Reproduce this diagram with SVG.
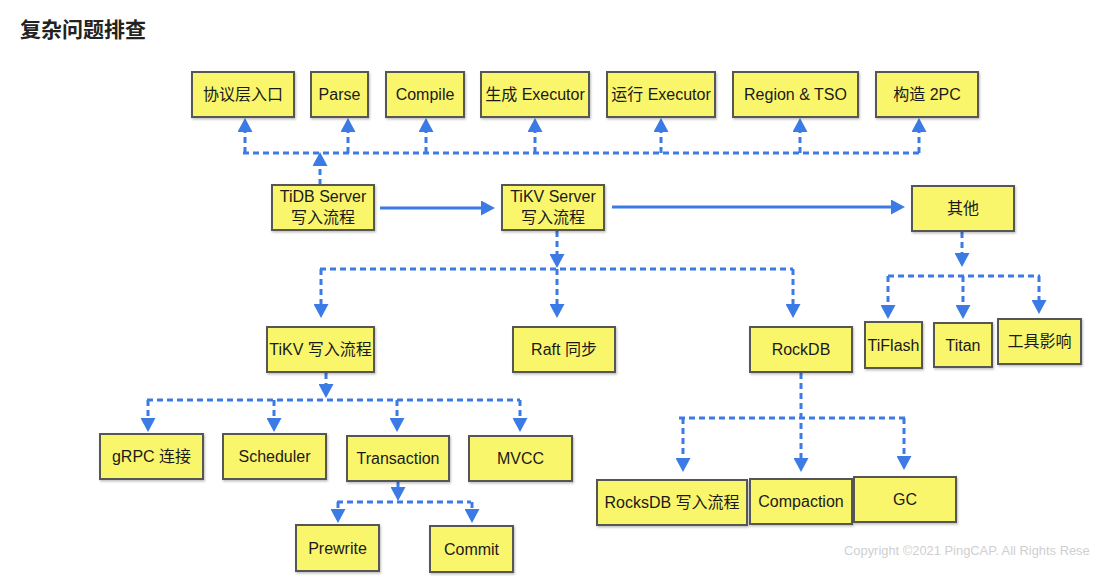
<svg xmlns="http://www.w3.org/2000/svg" width="1102" height="576" viewBox="0 0 1102 576">
<style>
.box{fill:#faf66c;stroke:#575757;stroke-width:2;filter:url(#sh)}
.t{font-family:"Liberation Sans","Noto Sans CJK SC",sans-serif;font-size:16px;fill:#1a1a1a;text-anchor:middle}
.d{fill:none;stroke:#3c7be6;stroke-width:3;stroke-dasharray:6 4}
.s{fill:none;stroke:#3c7be6;stroke-width:3}
.title{font-family:"Liberation Sans","Noto Sans CJK SC",sans-serif;font-size:21px;font-weight:bold;fill:#222}
.copy{font-family:"Liberation Sans",sans-serif;font-size:12.9px;fill:#cfcfcf}
</style>
<defs>
<filter id="sh" x="-10%" y="-10%" width="130%" height="140%">
<feDropShadow dx="1" dy="1.5" stdDeviation="1" flood-color="#000" flood-opacity="0.25"/>
</filter>
<marker id="ah" viewBox="0 0 14 15" refX="0" refY="7.5" markerWidth="14" markerHeight="15" markerUnits="userSpaceOnUse" orient="auto">
<path d="M0,0 L14,7.5 L0,15 z" fill="#3c7be6"/>
</marker>
<clipPath id="cp"><rect x="0" y="0" width="1090" height="576"/></clipPath>
</defs>
<rect width="1102" height="576" fill="#fff"/>
<text class="title" x="20" y="37">复杂问题排查</text>

<g id="connectors">
<path class="d" d="M320 185 V166" marker-end="url(#ah)"/>
<path class="d" d="M243 153 H920"/>
<path class="d" d="M245 153 V132" marker-end="url(#ah)"/>
<path class="d" d="M348 153 V132" marker-end="url(#ah)"/>
<path class="d" d="M426 153 V132" marker-end="url(#ah)"/>
<path class="d" d="M535 153 V132" marker-end="url(#ah)"/>
<path class="d" d="M661 153 V132" marker-end="url(#ah)"/>
<path class="d" d="M800 153 V132" marker-end="url(#ah)"/>
<path class="d" d="M919 153 V132" marker-end="url(#ah)"/>
<path class="s" d="M380 208 H481" marker-end="url(#ah)"/>
<path class="s" d="M612 207 H891" marker-end="url(#ah)"/>
<path class="d" d="M557 231 V254" marker-end="url(#ah)"/>
<path class="d" d="M320 269 H793"/>
<path class="d" d="M321 269 V304" marker-end="url(#ah)"/>
<path class="d" d="M557 269 V304" marker-end="url(#ah)"/>
<path class="d" d="M793 269 V304" marker-end="url(#ah)"/>
<path class="d" d="M962 232 V253" marker-end="url(#ah)"/>
<path class="d" d="M888 276 H1040"/>
<path class="d" d="M888 276 V305" marker-end="url(#ah)"/>
<path class="d" d="M963 276 V305" marker-end="url(#ah)"/>
<path class="d" d="M1039 276 V300" marker-end="url(#ah)"/>
<path class="d" d="M326 373 V384" marker-end="url(#ah)"/>
<path class="d" d="M147 400 H520"/>
<path class="d" d="M148 400 V418" marker-end="url(#ah)"/>
<path class="d" d="M274 400 V418" marker-end="url(#ah)"/>
<path class="d" d="M397 400 V418" marker-end="url(#ah)"/>
<path class="d" d="M520 400 V418" marker-end="url(#ah)"/>
<path class="d" d="M398 482 V487" marker-end="url(#ah)"/>
<path class="d" d="M337 502 H471"/>
<path class="d" d="M338 502 V509" marker-end="url(#ah)"/>
<path class="d" d="M472 502 V509" marker-end="url(#ah)"/>
<path class="d" d="M801 373 V458" marker-end="url(#ah)"/>
<path class="d" d="M679 418 H906"/>
<path class="d" d="M683 418 V458" marker-end="url(#ah)"/>
<path class="d" d="M904 418 V456" marker-end="url(#ah)"/>
</g>

<g id="n-protocol"><rect class="box" x="192" y="72" width="102" height="45"/><text class="t" x="243" y="100">协议层入口</text></g>
<g id="n-parse"><rect class="box" x="311" y="72" width="57" height="45"/><text class="t" x="339.5" y="100">Parse</text></g>
<g id="n-compile"><rect class="box" x="386" y="72" width="78" height="45"/><text class="t" x="425" y="100">Compile</text></g>
<g id="n-gen-exec"><rect class="box" x="481" y="72" width="108" height="45"/><text class="t" x="535" y="100">生成 Executor</text></g>
<g id="n-run-exec"><rect class="box" x="607" y="72" width="108" height="45"/><text class="t" x="661" y="100">运行 Executor</text></g>
<g id="n-region"><rect class="box" x="733" y="72" width="125" height="45"/><text class="t" x="795.5" y="100">Region &amp; TSO</text></g>
<g id="n-2pc"><rect class="box" x="876" y="72" width="102" height="45"/><text class="t" x="927" y="100">构造 2PC</text></g>

<g id="n-tidb"><rect class="box" x="272" y="185" width="102" height="45"/><text class="t" x="323" y="202">TiDB Server</text><text class="t" x="323" y="223">写入流程</text></g>
<g id="n-tikv-server"><rect class="box" x="502" y="185" width="102" height="45"/><text class="t" x="553" y="202">TiKV Server</text><text class="t" x="553" y="223">写入流程</text></g>
<g id="n-other"><rect class="box" x="912" y="186" width="102" height="45"/><text class="t" x="963" y="214">其他</text></g>

<g id="n-tikv-write"><rect class="box" x="267" y="327" width="107" height="45"/><text class="t" x="320.5" y="355">TiKV 写入流程</text></g>
<g id="n-raft"><rect class="box" x="513" y="327" width="102" height="45"/><text class="t" x="564" y="355">Raft 同步</text></g>
<g id="n-rockdb"><rect class="box" x="750" y="327" width="102" height="45"/><text class="t" x="801" y="355">RockDB</text></g>
<g id="n-tiflash"><rect class="box" x="865" y="322" width="57" height="46"/><text class="t" x="893.5" y="351">TiFlash</text></g>
<g id="n-titan"><rect class="box" x="934" y="323" width="58" height="44"/><text class="t" x="963" y="351">Titan</text></g>
<g id="n-tools"><rect class="box" x="998" y="319" width="83" height="45"/><text class="t" x="1039.5" y="347">工具影响</text></g>

<g id="n-grpc"><rect class="box" x="100" y="434" width="103" height="45"/><text class="t" x="151.5" y="462">gRPC 连接</text></g>
<g id="n-scheduler"><rect class="box" x="223" y="434" width="103" height="45"/><text class="t" x="274.5" y="462">Scheduler</text></g>
<g id="n-transaction"><rect class="box" x="347" y="436" width="102" height="45"/><text class="t" x="398" y="464">Transaction</text></g>
<g id="n-mvcc"><rect class="box" x="469" y="436" width="103" height="45"/><text class="t" x="520.5" y="464">MVCC</text></g>
<g id="n-prewrite"><rect class="box" x="296" y="525" width="83" height="46"/><text class="t" x="337.5" y="554">Prewrite</text></g>
<g id="n-commit"><rect class="box" x="430" y="526" width="83" height="46"/><text class="t" x="471.5" y="555">Commit</text></g>

<g id="n-rocksdb-write"><rect class="box" x="597" y="480" width="150" height="45"/><text class="t" x="672" y="508">RocksDB 写入流程</text></g>
<g id="n-compaction"><rect class="box" x="750" y="479" width="102" height="45"/><text class="t" x="801" y="507">Compaction</text></g>
<g id="n-gc"><rect class="box" x="854" y="477" width="102" height="45"/><text class="t" x="905" y="505">GC</text></g>

<text class="copy" x="844" y="555" clip-path="url(#cp)">Copyright ©2021 PingCAP. All Rights Rese</text>
</svg>
